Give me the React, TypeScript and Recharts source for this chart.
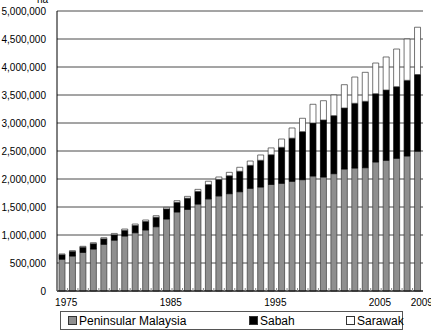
import { BarChart, Bar, XAxis, YAxis, CartesianGrid, Legend } from 'recharts'

const years = [
  '1975', '1976', '1977', '1978', '1979', '1980', '1981', '1982', '1983', '1984',
  '1985', '1986', '1987', '1988', '1989', '1990', '1991', '1992', '1993', '1994',
  '1995', '1996', '1997', '1998', '1999', '2000', '2001', '2002', '2003', '2004',
  '2005', '2006', '2007', '2008', '2009',
]

const peninsular = [
  568000, 625000, 690000, 750000, 834000, 908000, 982000, 1041000, 1090000, 1148000,
  1286000, 1411000, 1458000, 1553000, 1645000, 1698000, 1738000, 1773000, 1834000, 1857000,
  1903000, 1923000, 1959000, 1988000, 2054000, 2036000, 2095000, 2179000, 2196000, 2202000,
  2304000, 2334000, 2370000, 2411000, 2496000,
]

const sabah = [
  80000, 82000, 92000, 95000, 98000, 97000, 102000, 130000, 152000, 170000,
  180000, 172000, 200000, 225000, 255000, 295000, 320000, 365000, 410000, 477000,
  530000, 643000, 770000, 857000, 946000, 1018000, 1036000, 1089000, 1156000, 1185000,
  1219000, 1255000, 1278000, 1351000, 1370000,
]

const sarawak = [
  14000, 13000, 16000, 18000, 20000, 23000, 23000, 25000, 26000, 27000,
  28000, 30000, 32000, 37000, 60000, 43000, 61000, 71000, 77000, 95000,
  122000, 148000, 182000, 239000, 334000, 344000, 369000, 416000, 469000, 518000,
  548000, 590000, 673000, 738000, 844000,
]

const yTicks = [0, 500000, 1000000, 1500000, 2000000, 2500000, 3000000, 3500000, 4000000, 4500000, 5000000]
const shownYears = ['1975', '1985', '1995', '2005', '2009']

const data = years.map((year, i) => ({
  year,
  peninsular: peninsular[i],
  sabah: sabah[i],
  sarawak: sarawak[i],
}))

const FONT = '"Liberation Sans", Arial, sans-serif'
const BAND = 366 / years.length

function YearTick({ x, y, payload }: any) {
  return (
    <g>
      <line x1={x - BAND / 2} x2={x - BAND / 2} y1={y} y2={y - 3} stroke="#888" />
      {shownYears.includes(payload.value) && (
        <text x={x + 4} y={y + 15} textAnchor="middle" fontSize={10} fontFamily={FONT} fill="#000">
          {payload.value}
        </text>
      )}
    </g>
  )
}

const legendItems = [
  { label: 'Peninsular Malaysia', fill: '#8f8f8f', left: 7 },
  { label: 'Sabah', fill: '#000', left: 188 },
  { label: 'Sarawak', fill: '#fff', left: 285 },
]

function ChartLegend() {
  return (
    <div
      style={{
        position: 'relative',
        width: 341,
        height: 17,
        border: '1px solid #555',
        fontFamily: FONT,
        fontSize: 12,
        color: '#000',
      }}
    >
      {legendItems.map((item) => (
        <div
          key={item.label}
          style={{ position: 'absolute', left: item.left, top: 0, height: 17, display: 'flex', alignItems: 'center' }}
        >
          <span
            style={{
              display: 'inline-block',
              width: 7,
              height: 7,
              background: item.fill,
              border: '1px solid #333',
              marginRight: 2,
            }}
          />
          <span>{item.label}</span>
        </div>
      ))}
    </div>
  )
}

export default function App() {
  return (
    <div style={{ position: 'absolute', left: 0, top: 0, width: 431, height: 332, background: '#fff' }}>
      <BarChart width={431} height={332} data={data} margin={{ top: 11, right: 8, left: 0, bottom: 2 }}>
        <CartesianGrid vertical={false} stroke="#4a4a4a" />
        <XAxis
          dataKey="year"
          interval={0}
          height={20}
          tickSize={0}
          tickMargin={0}
          tickLine={false}
          axisLine={{ stroke: '#000' }}
          tick={<YearTick />}
        />
        <YAxis
          width={57}
          domain={[0, 5000000]}
          ticks={yTicks}
          tickFormatter={(v: number) => v.toLocaleString('en-US')}
          tickLine={false}
          tickSize={9}
          tickMargin={2}
          axisLine={{ stroke: '#000' }}
          tick={{ fontSize: 10, fontFamily: FONT, fill: '#000' }}
          label={{
            content: () => (
              <text x={48} y={3} textAnchor="end" fontSize={10} fontFamily={FONT} fill="#000">
                ha
              </text>
            ),
          }}
        />
        <YAxis yAxisId="r" orientation="right" width={0} tick={false} tickLine={false} axisLine={{ stroke: '#999' }} />
        <Legend
          verticalAlign="bottom"
          height={19}
          wrapperStyle={{ left: 60, width: 343, bottom: 2 }}
          content={() => <ChartLegend />}
        />
        <Bar dataKey="peninsular" stackId="a" barSize={6} fill="#8f8f8f" stroke="#3a3a3a" strokeWidth={0.7} isAnimationActive={false} />
        <Bar dataKey="sabah" stackId="a" barSize={6} fill="#000" stroke="#000" strokeWidth={0.7} isAnimationActive={false} />
        <Bar dataKey="sarawak" stackId="a" barSize={6} fill="#fff" stroke="#3a3a3a" strokeWidth={0.7} isAnimationActive={false} />
      </BarChart>
    </div>
  )
}
